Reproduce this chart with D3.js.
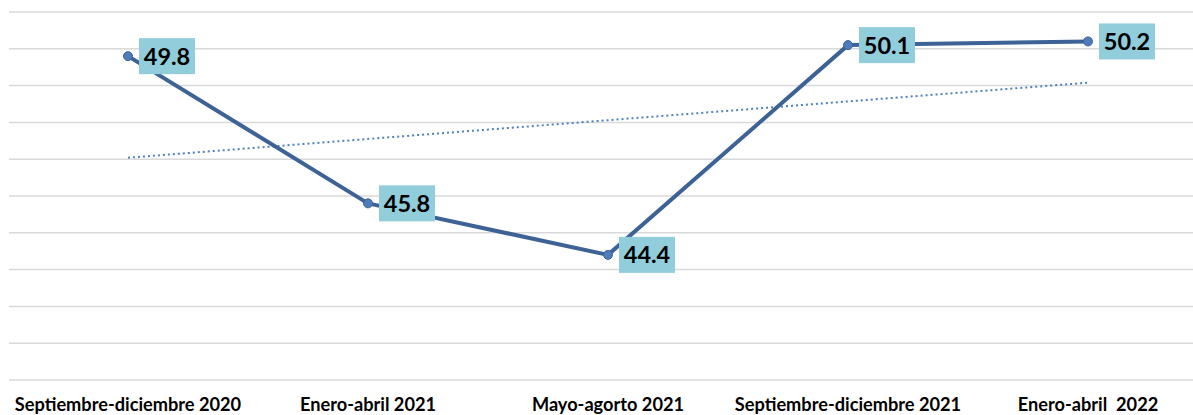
<!DOCTYPE html>
<html>
<head>
<meta charset="utf-8">
<script src="https://cdn.jsdelivr.net/npm/d3@7"></script>
<style>
  html, body { margin: 0; padding: 0; background: #ffffff; overflow: hidden; }
  svg { display: block; }
</style>
</head>
<body>
<svg id="chart" width="1193" height="415"></svg>
<script>
const categories = ["Septiembre-diciembre 2020", "Enero-abril 2021", "Mayo-agorto 2021", "Septiembre-diciembre 2021", "Enero-abril  2022"];
const values = [49.8, 45.8, 44.4, 50.1, 50.2];
const yTicks = [41, 42, 43, 44, 45, 46, 47, 48, 49, 50, 51];

const svg = d3.select("#chart");
const x = d3.scaleBand().domain(categories).range([8, 1208]);
const cx = d => x(d) + x.bandwidth() / 2;
const y = d3.scaleLinear().domain([41, 51]).range([380, 12]);

// gridlines
svg.append("g").selectAll("line").data(yTicks).join("line")
  .attr("x1", 9).attr("x2", 1193)
  .attr("y1", d => y(d)).attr("y2", d => y(d))
  .attr("stroke", "#d9d9d9").attr("stroke-width", 1.5);

// trendline (linear regression)
const n = values.length;
const xs = values.map((_, i) => i);
const mx = d3.mean(xs), my = d3.mean(values);
const slope = d3.sum(xs, (xi, i) => (xi - mx) * (values[i] - my)) / d3.sum(xs, xi => (xi - mx) ** 2);
const intercept = my - slope * mx;
svg.append("line")
  .attr("x1", cx(categories[0])).attr("x2", cx(categories[n - 1]))
  .attr("y1", y(intercept)).attr("y2", y(intercept + slope * (n - 1)))
  .attr("stroke", "#4f81bd").attr("stroke-width", 2)
  .attr("stroke-dasharray", "2,3");

// main line
const data = categories.map((c, i) => ({ c, v: values[i] }));
svg.append("path").datum(data)
  .attr("fill", "none").attr("stroke", "#3d6296").attr("stroke-width", 4)
  .attr("stroke-linejoin", "round")
  .attr("d", d3.line().x(d => cx(d.c)).y(d => y(d.v)));

svg.append("g").selectAll("circle").data(data).join("circle")
  .attr("cx", d => cx(d.c)).attr("cy", d => y(d.v)).attr("r", 4.5)
  .attr("fill", "#4f7cba").attr("stroke", "#3d6296").attr("stroke-width", 1);

// data labels
const lab = svg.append("g").selectAll("g").data(data).join("g")
  .attr("transform", d => `translate(${cx(d.c) + 11},${y(d.v)})`);
lab.append("rect").attr("x", 0).attr("y", -18).attr("width", 56).attr("height", 36)
  .attr("fill", "#92cddc");
lab.append("text").attr("x", 28).attr("y", 0).attr("dy", "0.36em")
  .attr("text-anchor", "middle")
  .style("font-family", "Lato, 'Open Sans', sans-serif").style("font-weight", "bold")
  .style("font-size", "23.5px").attr("fill", "#000")
  .text(d => d.v.toFixed(1));

// x labels
svg.append("g").selectAll("text").data(categories).join("text")
  .attr("x", d => cx(d)).attr("y", 411)
  .attr("text-anchor", "middle")
  .style("white-space", "pre")
  .style("font-family", "Lato, 'Open Sans', sans-serif").style("font-weight", "bold")
  .style("font-size", "18.2px").attr("fill", "#000")
  .text(d => d);
</script>
</body>
</html>
